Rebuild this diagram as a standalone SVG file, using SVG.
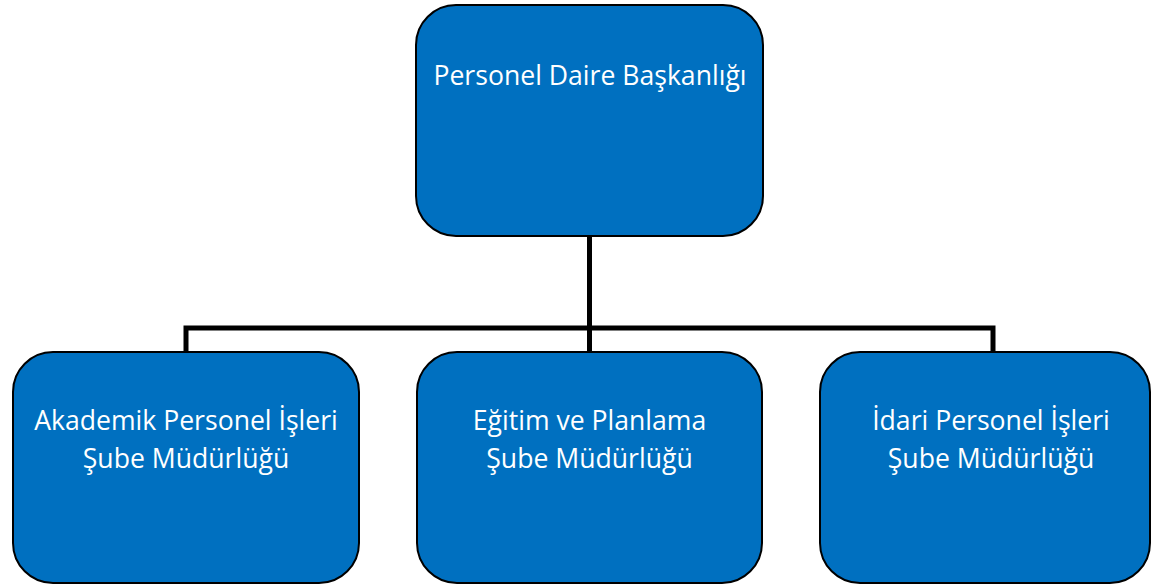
<svg xmlns="http://www.w3.org/2000/svg" width="1151" height="586" viewBox="0 0 1151 586">
<style>
.box{fill:#0070C0;stroke:#000;stroke-width:2}
.t{fill:#fff;font-family:"Open Sans","Noto Sans",sans-serif;font-size:26.6px;text-anchor:middle}
.c{fill:none;stroke:#000;stroke-width:5}
</style>
<rect width="1151" height="586" fill="#fff"/>
<g id="connectors">
<path class="c" d="M589.5 236V328M186 352V328H993V352M589.5 328V352"/>
</g>
<g id="n0">
<rect class="box" x="416" y="5" width="347" height="231" rx="40"/>
<text class="t" x="590" y="85">Personel Daire Başkanlığı</text>
</g>
<g id="n1">
<rect class="box" x="13" y="352" width="346" height="231" rx="40"/>
<text class="t" x="186" y="430">Akademik Personel İşleri</text>
<text class="t" x="186" y="468">Şube Müdürlüğü</text>
</g>
<g id="n2">
<rect class="box" x="417" y="352" width="345" height="231" rx="40"/>
<text class="t" x="589.5" y="430">Eğitim ve Planlama</text>
<text class="t" x="589.5" y="468">Şube Müdürlüğü</text>
</g>
<g id="n3">
<rect class="box" x="820" y="352" width="330" height="231" rx="40"/>
<text class="t" x="991" y="430">İdari Personel İşleri</text>
<text class="t" x="991" y="468">Şube Müdürlüğü</text>
</g>
</svg>
